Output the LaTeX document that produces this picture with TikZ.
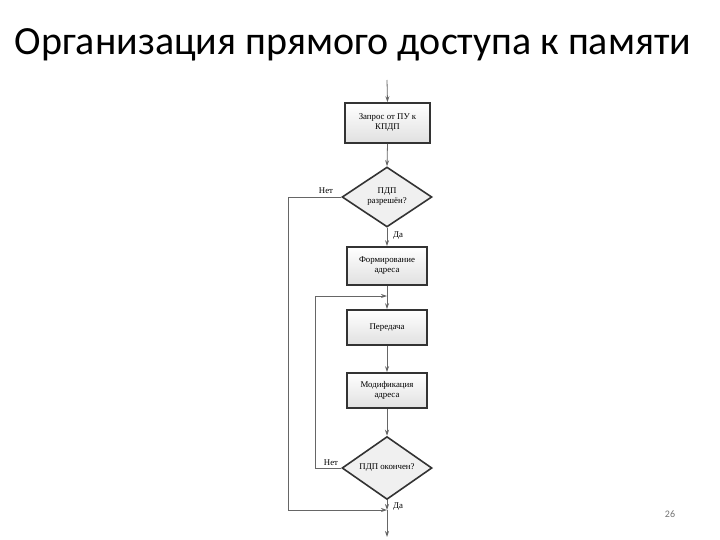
\documentclass[tikz,border=0pt]{standalone}
\usepackage{fontspec}
\setmainfont{Liberation Serif}
\newfontfamily\titlefont{Carlito}
\usetikzlibrary{shapes.geometric,arrows.meta}
\begin{document}
\begin{tikzpicture}[x=1pt,y=-1pt,
  box/.style={draw=black!80,line width=1.6pt,top color=white,bottom color=black!12,minimum width=80pt,inner sep=0pt,align=center,font=\fontsize{8.8}{10}\selectfont},
  dia/.style={diamond,draw=black!80,line width=1.6pt,fill=black!6,minimum width=90pt,minimum height=60pt,inner sep=0pt,align=center,font=\fontsize{8.8}{10}\selectfont},
  ar/.style={draw=black!60,line width=0.8pt,-{Stealth[length=6pt,width=4pt]}},
  ln/.style={draw=black!60,line width=0.8pt},
  lbl/.style={font=\fontsize{8.8}{10}\selectfont,inner sep=1pt}]
\useasboundingbox (0,0) rectangle (720,540);
\node[font=\titlefont\fontsize{40}{44}\selectfont] (title) at (353,45) {Организация прямого доступа к памяти};
\coordinate (start) at (387,80);
\node[box,minimum height=40pt,minimum width=85pt] (b1) at (387.5,123) {Запрос от ПУ к\\КПДП};
\node[dia] (d1) at (387,197) {ПДП\\разрешён?};
\node[box,minimum height=38pt] (b2) at (387,266) {Формирование\\адреса};
\node[box,minimum height=35pt] (b3) at (387,327.5) {Передача};
\node[box,minimum height=35pt] (b4) at (387,390.5) {Модификация\\адреса};
\node[dia] (d2) at (387,468) {ПДП окончен?};
\coordinate (j1) at (387,296);
\coordinate (j2) at (387,510);
\coordinate (end) at (387,537);
\coordinate (l1a) at (288,197);
\coordinate (l1b) at (288,510);
\coordinate (l2a) at (315,468);
\coordinate (l2b) at (315,296);
\draw[ar] (start) -- (b1.north);
\draw[ar] (b1.south) -- (d1.north);
\draw[ar] (d1.south) -- (b2.north);
\draw[ln] (b2.south) -- (j1);
\draw[ar] (j1) -- (b3.north);
\draw[ar] (b3.south) -- (b4.north);
\draw[ar] (b4.south) -- (d2.north);
\draw[ar] (d2.south) -- (j2);
\draw[ar] (j2) -- (end);
\draw[ar] (d1.west) -- (l1a) -- (l1b) -- (j2);
\draw[ar] (d2.west) -- (l2a) -- (l2b) -- (j1);
\node[lbl] (n1) at (326,191) {Нет};
\node[lbl] (y1) at (398,236) {Да};
\node[lbl] (n2) at (331,463) {Нет};
\node[lbl] (y2) at (398,507) {Да};
\node[font=\titlefont\fontsize{10}{11}\selectfont,text=black!55] (pg) at (670,514) {26};
\end{tikzpicture}
\end{document}
